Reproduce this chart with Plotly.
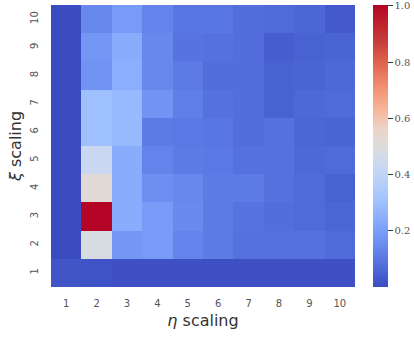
import plotly.graph_objects as go

eta = [1, 2, 3, 4, 5, 6, 7, 8, 9, 10]
xi = [1, 2, 3, 4, 5, 6, 7, 8, 9, 10]

# rows: xi = 1..10 ; columns: eta = 1..10
row_xi1 = [0.02, 0.015, 0.01, 0.01, 0.01, 0.01, 0.01, 0.01, 0.01, 0.01]
row_xi2 = [0.0, 0.48, 0.18, 0.19, 0.13, 0.11, 0.085, 0.085, 0.085, 0.07]
row_xi3 = [0.0, 1.0, 0.24, 0.19, 0.145, 0.11, 0.09, 0.08, 0.07, 0.06]
row_xi4 = [0.0, 0.52, 0.24, 0.16, 0.14, 0.11, 0.11, 0.085, 0.07, 0.05]
row_xi5 = [0.0, 0.43, 0.24, 0.13, 0.11, 0.105, 0.085, 0.085, 0.065, 0.07]
row_xi6 = [0.0, 0.30, 0.28, 0.11, 0.105, 0.10, 0.08, 0.085, 0.06, 0.055]
row_xi7 = [0.0, 0.30, 0.28, 0.17, 0.115, 0.085, 0.08, 0.05, 0.065, 0.07]
row_xi8 = [0.0, 0.17, 0.245, 0.14, 0.11, 0.08, 0.08, 0.05, 0.055, 0.065]
row_xi9 = [0.0, 0.18, 0.24, 0.14, 0.09, 0.085, 0.08, 0.04, 0.05, 0.055]
row_xi10 = [0.0, 0.14, 0.19, 0.13, 0.10, 0.10, 0.08, 0.07, 0.06, 0.03]

z = [row_xi1, row_xi2, row_xi3, row_xi4, row_xi5,
     row_xi6, row_xi7, row_xi8, row_xi9, row_xi10]

cb_ticks = [0.2, 0.4, 0.6, 0.8, 1.0]
cb_labels = ["0.2", "0.4", "0.6", "0.8", "1.0"]

coolwarm = [
    [0.0, "rgb(59,76,192)"], [0.0625, "rgb(77,103,215)"],
    [0.125, "rgb(98,130,234)"], [0.1875, "rgb(119,154,247)"],
    [0.25, "rgb(141,176,254)"], [0.3125, "rgb(163,196,255)"],
    [0.375, "rgb(184,208,249)"], [0.4375, "rgb(204,217,238)"],
    [0.5, "rgb(221,220,220)"], [0.5625, "rgb(236,211,197)"],
    [0.625, "rgb(246,183,156)"], [0.6875, "rgb(244,154,123)"],
    [0.75, "rgb(234,123,96)"], [0.8125, "rgb(218,90,72)"],
    [0.875, "rgb(196,59,56)"], [0.9375, "rgb(190,33,45)"],
    [1.0, "rgb(180,4,38)"],
]

W, H = 414, 339
L, R, T, B = 51, 4, 5, 52
plot_w = W - L - R
heat_right = 355
cb_left = 373

fig = go.Figure(go.Heatmap(
    x=eta, y=xi, z=z, zmin=0, zmax=1.003,
    colorscale=coolwarm, xgap=0, ygap=0,
    colorbar=dict(
        x=(cb_left - L) / plot_w, xanchor="left", xref="paper",
        y=0.5, yanchor="middle", xpad=0, ypad=0,
        len=1.0, lenmode="fraction", thickness=15, outlinewidth=0,
        tickvals=cb_ticks, ticktext=cb_labels,
        ticks="outside", ticklen=5, tickwidth=1, tickcolor="#333",
        tickfont=dict(family="DejaVu Serif", size=10, color="#555"),
    ),
))

fig.update_layout(
    width=W, height=H,
    margin=dict(l=L, r=R, t=T, b=B, autoexpand=False),
    paper_bgcolor="white", plot_bgcolor="white",
    font=dict(family="DejaVu Sans", color="#444"),
    xaxis=dict(
        domain=[0, (heat_right - L) / plot_w],
        tickmode="array", tickvals=eta, ticktext=[str(v) for v in eta],
        tickfont=dict(size=10, color="#555"),
        ticks="outside", ticklen=7, tickcolor="rgba(0,0,0,0)", showgrid=False,
        zeroline=False, showline=False, range=[0.5, 10.5],
        title=dict(text="<i>η</i> scaling", font=dict(size=16, color="#333"), standoff=6),
    ),
    yaxis=dict(
        tickmode="array", tickvals=xi, ticktext=[str(v) for v in xi],
        tickfont=dict(size=10, color="#555"),
        ticks="outside", ticklen=8, tickcolor="rgba(0,0,0,0)", showgrid=False,
        zeroline=False, showline=False, range=[0.5, 10.5], tickangle=-90,
        title=dict(text="<i>ξ</i> scaling", font=dict(size=16, color="#333"), standoff=3),
    ),
)

fig.write_html("out.html", config={"displayModeBar": False},
               post_script="document.body.style.margin='0';")
